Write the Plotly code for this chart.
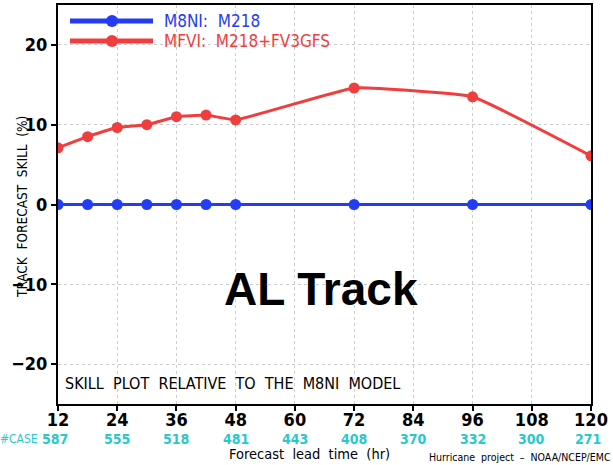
import plotly.graph_objects as go

# ---- data ----
hours = [12, 18, 24, 30, 36, 42, 48, 72, 96, 120]
m8ni_skill = [0, 0, 0, 0, 0, 0, 0, 0, 0, 0]
mfvi_skill = [7.1, 8.5, 9.65, 10.0, 11.0, 11.2, 10.6, 14.6, 13.5, 6.1]
tick_hours = [12, 24, 36, 48, 60, 72, 84, 96, 108, 120]
case_counts = [587, 555, 518, 481, 443, 408, 370, 332, 300, 271]
y_ticks = [-20, -10, 0, 10, 20]

BLUE = "rgb(35,60,245)"
RED = "rgb(240,62,62)"
CYAN = "rgb(40,200,205)"
FONT = "DejaVu Sans Condensed, Liberation Sans Narrow, Liberation Sans, Arial, sans-serif"

fig = go.Figure()
fig.add_trace(go.Scatter(x=hours, y=m8ni_skill, mode="lines+markers",
                         line=dict(color=BLUE, width=3),
                         marker=dict(color=BLUE, size=11), showlegend=False))
fig.add_trace(go.Scatter(x=hours, y=mfvi_skill, mode="lines+markers",
                         line=dict(color=RED, width=3, shape="spline", smoothing=0.3),
                         marker=dict(color=RED, size=11), showlegend=False))

W, H = 613, 465
L, R, T, B = 58, 22, 5, 61
pw, ph = W - L - R, H - T - B

def px(xp):
    return (xp - L) / pw

def py(yp):
    return (H - B - yp) / ph

shapes = []
annotations = []

# legend
for yy, col, label in [(21, BLUE, "M8NI:  M218"), (41, RED, "MFVI:  M218+FV3GFS")]:
    shapes.append(dict(type="line", xref="paper", yref="paper",
                       x0=px(70), x1=px(153), y0=py(yy), y1=py(yy),
                       line=dict(color=col, width=5)))
    shapes.append(dict(type="circle", xref="paper", yref="paper",
                       x0=px(106), x1=px(118), y0=py(yy - 6), y1=py(yy + 6),
                       fillcolor=col, line=dict(color=col, width=0)))
    annotations.append(dict(xref="paper", yref="paper", x=px(162), y=py(yy),
                            text=label, showarrow=False, xanchor="left", yanchor="middle",
                            font=dict(color=col, size=17, family=FONT)))

# case counts
for i, (h, c) in enumerate(zip(tick_hours, case_counts)):
    shift = -3 if i in (0, len(tick_hours) - 1) else 0
    annotations.append(dict(xref="x", yref="paper", x=h, y=py(439), text=str(c),
                            showarrow=False, xanchor="center", yanchor="middle", xshift=shift,
                            font=dict(color=CYAN, size=14, family=FONT, weight="bold")))
annotations.append(dict(xref="paper", yref="paper", x=px(40), y=py(439), text="#CASE",
                        showarrow=False, xanchor="right", yanchor="middle",
                        font=dict(color=CYAN, size=12, family=FONT)))

annotations += [
    dict(xref="paper", yref="paper", x=px(321), y=py(289), text="<b>AL Track</b>",
         showarrow=False, font=dict(size=46, color="black", family="Liberation Sans, Arial"),
         xanchor="center", yanchor="middle"),
    dict(xref="paper", yref="paper", x=px(63), y=py(383), text="SKILL  PLOT  RELATIVE  TO  THE  M8NI  MODEL",
         showarrow=False, font=dict(size=16, color="black", family=FONT),
         xanchor="left", yanchor="middle"),
    dict(xref="paper", yref="paper", x=px(309), y=py(454), text="Forecast  lead  time  (hr)",
         showarrow=False, font=dict(size=14.5, color="black", family=FONT),
         xanchor="center", yanchor="middle"),
    dict(xref="paper", yref="paper", x=px(427), y=py(457), text="Hurricane  project  –  NOAA/NCEP/EMC",
         showarrow=False, font=dict(size=10.5, color="black", family=FONT),
         xanchor="left", yanchor="middle"),
    dict(xref="paper", yref="paper", x=px(22), y=py(207), text="TRACK  FORECAST  SKILL  (%)",
         showarrow=False, textangle=-90, font=dict(size=13.5, color="black", family=FONT),
         xanchor="center", yanchor="middle"),
]

axis_common = dict(ticks="outside", ticklen=5, tickwidth=2, tickcolor="black",
                   showline=True, linecolor="black", linewidth=2, mirror=True,
                   showgrid=True, gridcolor="rgb(205,205,205)", griddash="dot", gridwidth=1,
                   zeroline=False, automargin=False,
                   tickfont=dict(size=18, color="black", family=FONT, weight="bold"))

fig.update_layout(
    width=W, height=H, margin=dict(l=L, r=R, t=T, b=B, autoexpand=False),
    paper_bgcolor="white", plot_bgcolor="white",
    shapes=shapes, annotations=annotations, showlegend=False,
    xaxis=dict(range=[12, 120], tickvals=tick_hours, ticklabelstandoff=-7, **axis_common),
    yaxis=dict(range=[-25, 25], tickvals=y_ticks, **axis_common),
)

fig.write_html("out.html", config={"displayModeBar": False},
               post_script="document.body.style.margin='0';document.body.style.overflow='hidden';")
